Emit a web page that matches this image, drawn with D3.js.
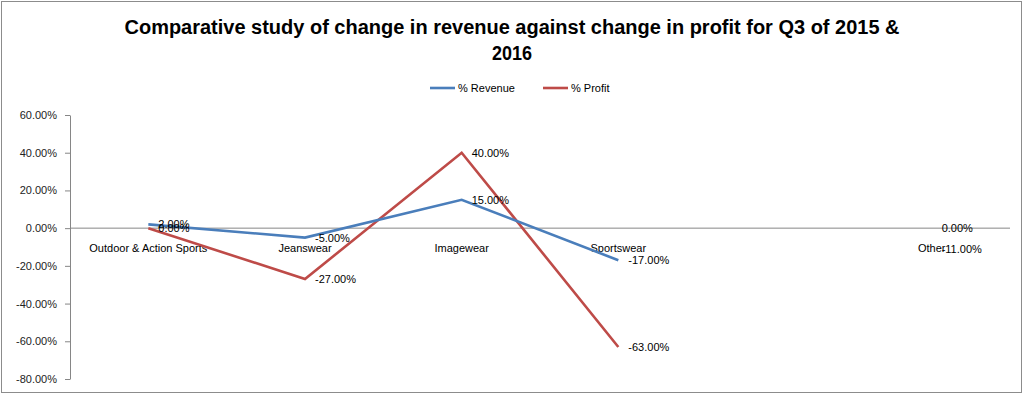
<!DOCTYPE html>
<html>
<head>
<meta charset="utf-8">
<script src="https://cdn.jsdelivr.net/npm/d3@7"></script>
<style>
  body { margin: 0; background: #fff; }
  text { font-family: "Liberation Sans", Arial, sans-serif; fill: #000; }
  .title { font-family: "Liberation Sans", Arial, sans-serif; font-weight: bold; font-size: 20px; }
  .axis--y path, .axis--y line { stroke: #868686; }
  .axis--y text { font-size: 11px; fill: #222; }
  .lbl { font-size: 11px; }
</style>
</head>
<body>
<svg width="1024" height="395"></svg>
<script>
// data
var categories = ["Outdoor & Action Sports", "Jeanswear", "Imagewear", "Sportswear", "", "Other"];
var revenue = [2, -5, 15, -17, null, 0];
var profit = [0, -27, 40, -63, null, -11];
var yTicks = [60, 40, 20, 0, -20, -40, -60, -80];

var svg = d3.select("svg");
var margin = {top: 115, left: 70, right: 1010, bottom: 379};

// chart border
svg.append("rect")
  .attr("x", 1.5).attr("y", 1.5)
  .attr("width", 1020).attr("height", 391)
  .attr("fill", "#fff").attr("stroke", "#8c8c8c").attr("stroke-width", 1);

// title
svg.append("text").attr("class", "title")
  .attr("x", 512).attr("y", 34).attr("text-anchor", "middle")
  .attr("textLength", 775).attr("lengthAdjust", "spacingAndGlyphs")
  .text("Comparative study of change in revenue against change in profit for Q3 of 2015 &");
svg.append("text").attr("class", "title")
  .attr("x", 512).attr("y", 60).attr("text-anchor", "middle")
  .attr("textLength", 40).attr("lengthAdjust", "spacingAndGlyphs")
  .text("2016");

var x = d3.scaleBand().domain(d3.range(categories.length)).range([margin.left, margin.right]);
var y = d3.scaleLinear().domain([-80, 60]).range([margin.bottom, margin.top]);
var cx = function(i) { return x(i) + x.bandwidth() / 2; };

// y axis
svg.append("g")
  .attr("class", "axis axis--y")
  .attr("transform", "translate(" + margin.left + ",0)")
  .call(d3.axisLeft(y).tickValues(yTicks).tickSize(5).tickSizeOuter(0)
    .tickFormat(function(d) { return d.toFixed(2) + "%"; }))
  .call(function(g) { g.selectAll("text").attr("x", -13); });

// zero line
svg.append("line")
  .attr("x1", margin.left).attr("x2", margin.right)
  .attr("y1", y(0)).attr("y2", y(0))
  .attr("stroke", "#868686");

// category labels
svg.selectAll(".cat")
  .data(categories)
  .enter().append("text")
  .attr("class", "lbl cat")
  .attr("x", function(d, i) { return cx(i); })
  .attr("y", y(0) + 24)
  .attr("text-anchor", "middle")
  .text(function(d) { return d; });

var series = [
  {name: "% Revenue", values: revenue, color: "#4a7ebb"},
  {name: "% Profit", values: profit, color: "#be4b48"}
];

var line = d3.line()
  .defined(function(d) { return d != null; })
  .x(function(d, i) { return cx(i); })
  .y(function(d) { return y(d); });

series.slice().reverse().forEach(function(s) {
  svg.append("path")
    .datum(s.values)
    .attr("fill", "none")
    .attr("stroke", s.color)
    .attr("stroke-width", 2.6)
    .attr("d", line);
});

series.forEach(function(s) {
  svg.selectAll(null)
    .data(s.values.map(function(v, i) { return {v: v, i: i}; }).filter(function(d) { return d.v != null; }))
    .enter().append("text")
    .attr("class", "lbl")
    .attr("x", function(d) { return cx(d.i) + 10; })
    .attr("y", function(d) { return y(d.v) + 4; })
    .text(function(d) { return d.v.toFixed(2) + "%"; });
});

// legend
var legend = svg.append("g").attr("transform", "translate(430,88)");
var legX = [0, 113];
series.forEach(function(s, k) {
  legend.append("line")
    .attr("x1", legX[k]).attr("x2", legX[k] + 25)
    .attr("y1", 0).attr("y2", 0)
    .attr("stroke", s.color).attr("stroke-width", 2.6);
  legend.append("text")
    .attr("class", "lbl")
    .attr("x", legX[k] + 28).attr("y", 4)
    .text(s.name);
});
</script>
</body>
</html>
